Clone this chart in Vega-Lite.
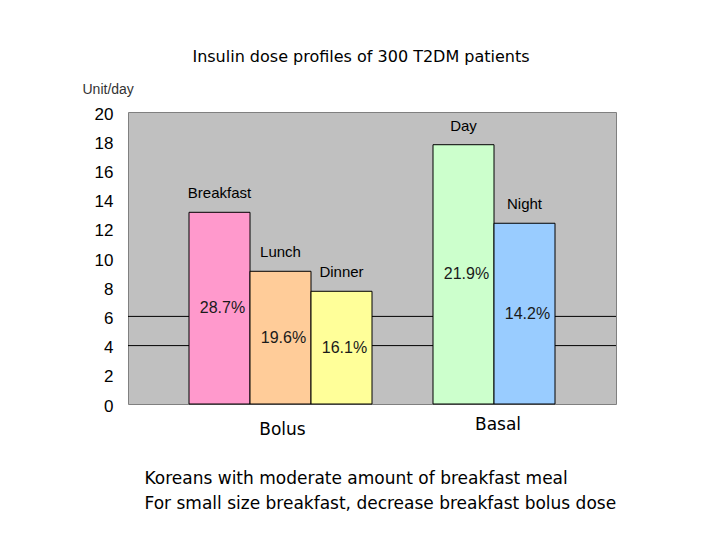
{
  "$schema": "https://vega.github.io/schema/vega-lite/v6.json",
  "autosize": "none",
  "width": 488,
  "height": 292,
  "padding": {"left": 128, "top": 112, "right": 104, "bottom": 136},
  "background": "white",
  "config": {
    "view": {"fill": "#C0C0C0", "stroke": "#808080", "strokeWidth": 1}
  },
  "title": {
    "text": "Insulin dose profiles of 300 T2DM patients",
    "font": "DejaVu Sans",
    "fontSize": 16,
    "fontWeight": "normal",
    "color": "black",
    "anchor": "middle",
    "frame": "group",
    "dx": -11,
    "offset": 17
  },
  "datasets": {
    "doses": [
      {"meal": "Breakfast", "dose": 13.13, "pct": "28.7%"},
      {"meal": "Lunch", "dose": 9.09, "pct": "19.6%"},
      {"meal": "Dinner", "dose": 7.72, "pct": "16.1%"},
      {"meal": "Day", "dose": 17.76, "pct": "21.9%"},
      {"meal": "Night", "dose": 12.38, "pct": "14.2%"}
    ]
  },
  "resolve": {"scale": {"y": "independent"}},
  "layer": [
    {
      "data": {"values": [{"level": 4}, {"level": 6}]},
      "mark": {"type": "rule", "color": "black", "strokeWidth": 1},
      "encoding": {
        "y": {"field": "level", "type": "quantitative", "scale": {"domain": [0, 20]}, "axis": null}
      }
    },
    {
      "data": {"name": "doses"},
      "mark": {"type": "bar", "stroke": "black", "strokeWidth": 1},
      "encoding": {
        "x": {
          "field": "meal",
          "type": "nominal",
          "sort": null,
          "scale": {
            "domain": ["gap1", "Breakfast", "Lunch", "Dinner", "gap2", "Day", "Night", "gap3"],
            "paddingInner": 0,
            "paddingOuter": 0
          },
          "axis": {
            "labels": false,
            "ticks": false,
            "domain": false,
            "title": ["Koreans with moderate amount of breakfast meal", "For small size breakfast, decrease breakfast bolus dose"],
            "titleFont": "DejaVu Sans",
            "titleFontSize": 17,
            "titleFontWeight": "normal",
            "titleColor": "black",
            "titleAnchor": "start",
            "titleAlign": "left",
            "titleBaseline": "alphabetic",
            "titleLineHeight": 25,
            "titleX": 16,
            "titleY": 79
          }
        },
        "y": {
          "field": "dose",
          "type": "quantitative",
          "scale": {"domain": [0, 20]},
          "axis": {
            "values": [0, 2, 4, 6, 8, 10, 12, 14, 16, 18, 20],
            "grid": false,
            "ticks": false,
            "domain": false,
            "labelFont": "Liberation Sans",
            "labelFontSize": 17,
            "labelColor": "black",
            "labelPadding": 15,
            "labelOffset": 2,
            "title": "Unit/day",
            "titleFont": "Liberation Sans",
            "titleFontSize": 14,
            "titleFontWeight": "normal",
            "titleColor": "#333333",
            "titleAngle": 0,
            "titleAlign": "left",
            "titleBaseline": "alphabetic",
            "titleX": -46,
            "titleY": -19
          }
        },
        "color": {
          "field": "meal",
          "type": "nominal",
          "scale": {
            "domain": ["Breakfast", "Lunch", "Dinner", "Day", "Night"],
            "range": ["#FF99CC", "#FFCC99", "#FFFF99", "#CCFFCC", "#99CCFF"]
          },
          "legend": null
        }
      }
    },
    {
      "data": {"name": "doses"},
      "mark": {"type": "text", "font": "Liberation Sans", "fontSize": 15, "color": "black", "baseline": "middle", "dy": -19},
      "encoding": {
        "x": {"field": "meal", "type": "nominal", "sort": null},
        "y": {"field": "dose", "type": "quantitative", "scale": {"domain": [0, 20]}, "axis": null},
        "text": {"field": "meal"}
      }
    },
    {
      "data": {"name": "doses"},
      "mark": {"type": "text", "font": "Liberation Sans", "fontSize": 16, "color": "#1a1a1a", "baseline": "middle", "dx": 3},
      "encoding": {
        "x": {"field": "meal", "type": "nominal", "sort": null},
        "y": {"field": "dose", "type": "quantitative", "scale": {"domain": [0, 40]}, "axis": null},
        "text": {"field": "pct"}
      }
    },
    {
      "data": {"values": [{"group": "Bolus", "under": "Lunch"}]},
      "mark": {"type": "text", "font": "DejaVu Sans", "fontSize": 17, "color": "black", "baseline": "middle", "dx": 2, "dy": 26},
      "encoding": {
        "x": {"field": "under", "type": "nominal", "sort": null},
        "y": {"datum": 0, "type": "quantitative", "scale": {"domain": [0, 20]}, "axis": null},
        "text": {"field": "group"}
      }
    },
    {
      "data": {"values": [{"group": "Basal", "under": "Night"}]},
      "mark": {"type": "text", "font": "DejaVu Sans", "fontSize": 17, "color": "black", "baseline": "middle", "dx": 4, "dy": 21},
      "encoding": {
        "x": {"field": "under", "type": "nominal", "sort": null, "bandPosition": 0},
        "y": {"datum": 0, "type": "quantitative", "scale": {"domain": [0, 20]}, "axis": null},
        "text": {"field": "group"}
      }
    }
  ]
}
